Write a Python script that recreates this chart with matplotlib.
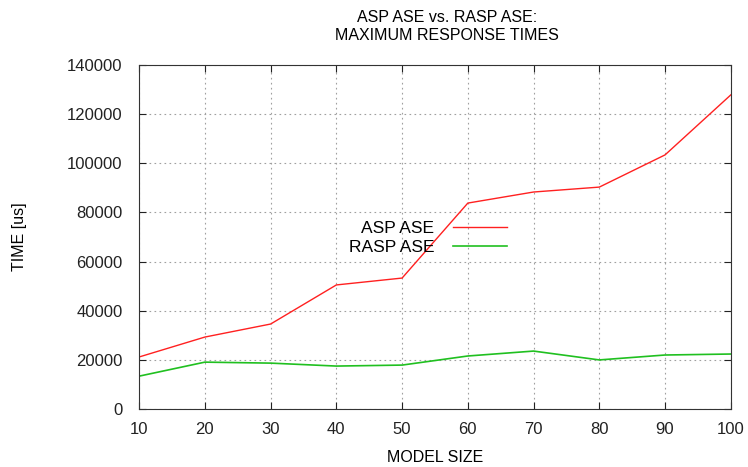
import numpy as np
import matplotlib.pyplot as plt

plt.rcParams['font.family'] = ['Liberation Sans', 'DejaVu Sans']

model_size = [10, 20, 30, 40, 50, 60, 70, 80, 90, 100]
asp_ase = [21200, 29300, 34600, 50500, 53300, 83800, 88300, 90300, 103400, 127800]
rasp_ase = [13400, 19100, 18700, 17500, 17900, 21600, 23600, 20000, 22000, 22400]

fig = plt.figure(figsize=(7.48, 4.67), dpi=100)
ax = fig.add_axes([0.186, 0.124, 0.791, 0.737])

ax.plot(model_size, asp_ase, color='#ff2020', lw=1, label='ASP ASE')
ax.plot(model_size, rasp_ase, color='#20c020', lw=1.2, label='RASP ASE')

ax.set_xlim(10, 100)
ax.set_ylim(0, 140000)
ax.set_xticks(np.arange(10, 101, 10))
ax.set_yticks(np.arange(0, 140001, 20000))
ax.grid(True, color='#a0a0a0', linestyle=(0, (1.5, 3)), lw=0.8)
ax.tick_params(direction='in', top=True, right=True, length=5, labelsize=12, colors='#222222')
ax.tick_params(axis='x', pad=9)
ax.tick_params(axis='y', pad=12)
for s in ax.spines.values():
    s.set_color('#333333')

ax.set_xlabel('MODEL SIZE', fontsize=11.5, labelpad=10)
ax.set_ylabel('TIME [us]', fontsize=11.5, labelpad=29)
fig.text(0.598, 0.943, 'ASP ASE vs. RASP ASE:\nMAXIMUM RESPONSE TIMES', fontsize=11.5,
         ha='center', va='center', linespacing=1.3)

leg = ax.legend(loc='center', bbox_to_anchor=(0.488, 0.498), frameon=False, markerfirst=False,
                fontsize=12.5, handlelength=3.1, handletextpad=1.1, labelspacing=0.2)
for t in leg.get_texts():
    t.set_ha('right')

fig.savefig('out.png', dpi=100)
